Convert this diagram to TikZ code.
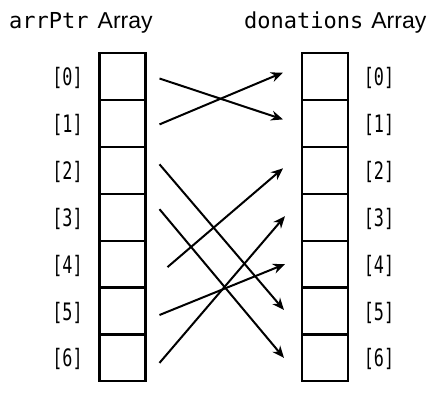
\documentclass[tikz,border=0pt]{standalone}
\usepackage{fontspec}
\setsansfont{Liberation Sans}
\setmonofont{DejaVu Sans Mono}
\newfontfamily\idxfont[FakeStretch=0.7]{DejaVu Sans Mono}
\usetikzlibrary{arrows.meta}
\begin{document}
\begin{tikzpicture}[x=1pt,y=-1pt,
  cell/.style={draw,line width=2.2pt,minimum width=46pt,minimum height=46.9pt,inner sep=0pt,outer sep=0pt},
  idx/.style={font=\fontsize{24}{24}\selectfont\idxfont,inner sep=0pt},
  ttl/.style={anchor=base west,inner sep=0pt},
  arr/.style={line width=2pt,-{Stealth[length=12pt,width=10pt]}}]
\useasboundingbox (0,0) rectangle (448,410);
\node[ttl] (t1) at (9,28) {\fontsize{22}{22}\selectfont\ttfamily arrPtr\hspace{9pt}\fontsize{23}{23}\selectfont\sffamily Array};
\node[ttl] (t2) at (244,28) {\fontsize{22}{22}\selectfont\ttfamily donations\hspace{8pt}\fontsize{23}{23}\selectfont\sffamily Array};
\foreach \i in {0,...,6} {
  \node[cell] (l\i) at (122.5,{76.5+46.9*\i}) {};
  \node[cell] (r\i) at (325,{76.5+46.9*\i}) {};
  \node[idx] (li\i) at (67.5,{78+46.9*\i}) {[\i]};
  \node[idx] (ri\i) at (379,{78+46.9*\i}) {[\i]};
}
\draw[arr] ([xshift=14pt,yshift=-2pt]l0.east) -- ([xshift=-19pt,yshift=4pt]r1.west);
\draw[arr] ([xshift=14pt,yshift=-1pt]l1.east) -- ([xshift=-19pt,yshift=4pt]r0.west);
\draw[arr] ([xshift=14pt,yshift=6pt]l2.east) -- ([xshift=-18pt,yshift=1pt]r5.west);
\draw[arr] ([xshift=14pt,yshift=8pt]l3.east) -- ([xshift=-18pt,yshift=0pt]r6.west);
\draw[arr] ([xshift=22pt,yshift=-3pt]l4.east) -- ([xshift=-19pt,yshift=2pt]r2.west);
\draw[arr] ([xshift=14pt,yshift=-4pt]l5.east) -- ([xshift=-17pt,yshift=0pt]r4.west);
\draw[arr] ([xshift=14pt,yshift=-5pt]l6.east) -- ([xshift=-17pt,yshift=1pt]r3.west);
\end{tikzpicture}
\end{document}
